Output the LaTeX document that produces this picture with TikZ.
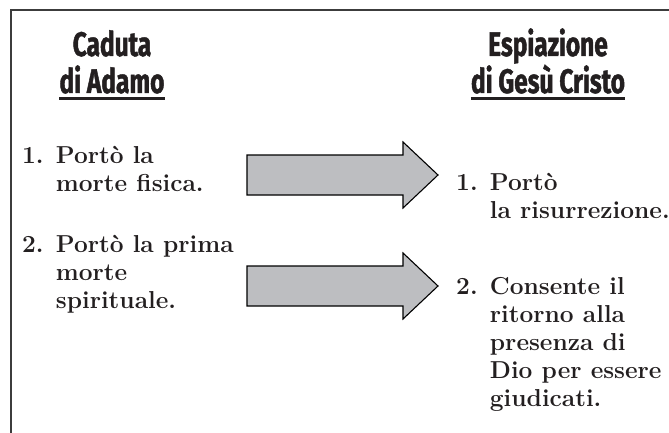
\documentclass[tikz,border=0pt]{standalone}
\usepackage{fontspec}
\newfontfamily\headfont{Fira Sans}[FakeStretch=0.72,FakeBold=1.3]
\usetikzlibrary{positioning}
\definecolor{arrowgray}{HTML}{BDBEC1}
\definecolor{framegray}{HTML}{3C3C3C}
\definecolor{ink}{HTML}{231F20}

\begin{document}
\begin{tikzpicture}[x=1pt,y=-1pt,
 every node/.style={inner sep=0pt,text=ink},
 heading/.style={font=\headfont\bfseries\fontsize{34}{37}\selectfont,align=center,anchor=base},
 item/.style={font=\bfseries\fontsize{24.5}{28}\selectfont,anchor=base west},
 rule/.style={line width=3pt,ink},
 bigarrow/.style={draw=black,fill=arrowgray,line width=1.1pt,line join=miter}]
\useasboundingbox (0,0) rectangle (669,433);
% frame
\draw[framegray,line width=1.6pt] (11,433) -- (11,10) -- (669,10);
% headings (base = last line)
\node[heading] (fall) at (112,93) {Caduta\\di Adamo};
\node[heading] (atone) at (548,93) {Espiazione\\di Gesù Cristo};
\draw[rule] ([yshift=-5pt]fall.south west) -- ([yshift=-5pt]fall.south east);
\draw[rule] ([yshift=-5pt]atone.south west) -- ([yshift=-5pt]atone.south east);
% items
\node[item] (left1) at (22,164)
 {\begin{tabular}[t]{@{}l@{ }l@{}}1.&Portò la\\&morte fisica.\end{tabular}};
\node[item] (left2) at (22,252)
 {\begin{tabular}[t]{@{}l@{ }l@{}}2.&Portò la prima\\&morte\\&spirituale.\end{tabular}};
\node[item] (right1) at (456,190)
 {\begin{tabular}[t]{@{}l@{ }l@{}}1.&Portò\\&la risurrezione.\end{tabular}};
\node[item] (right2) at (456,294)
 {\begin{tabular}[t]{@{}l@{ }l@{}}2.&Consente il\\&ritorno alla\\&presenza di\\&Dio per essere\\&giudicati.\end{tabular}};
% arrows
\draw[bigarrow] (247,155) -- (403,155) -- (403,142) -- (438,175)
 -- (403,208) -- (403,195) -- (247,195) -- cycle;
\draw[bigarrow] (247,266) -- (403,266) -- (403,253) -- (438,286)
 -- (403,319) -- (403,306) -- (247,306) -- cycle;
\end{tikzpicture}
\end{document}
